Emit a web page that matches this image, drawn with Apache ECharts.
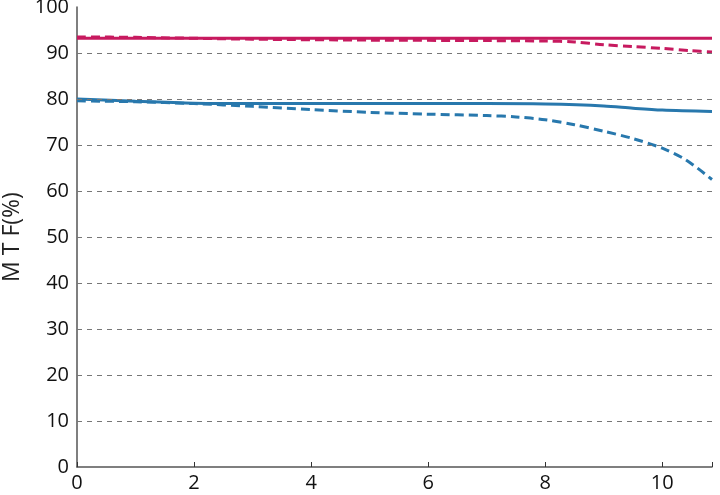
<!DOCTYPE html><html><head><meta charset="utf-8"><script src="https://cdn.jsdelivr.net/npm/echarts@6/dist/echarts.min.js"></script></head><body style="margin:0"><div id="c" style="width:720px;height:495px"></div><script>
const pinkSolid=[[0,93.2],[2,93.2],[4,93.2],[6,93.2],[8,93.2],[10,93.2],[10.85,93.2]];
const pinkDash=[[0,93.5],[1,93.4],[3,93],[5,92.8],[7,92.7],[8,92.6],[8.5,92.4],[9,91.8],[9.5,91.4],[10,91],[10.5,90.5],[10.85,90.2]];
const blueSolid=[[0,80],[1,79.5],[2,79.1],[3,79],[5,79],[7,79],[8,78.9],[9,78.5],[9.5,78],[10,77.6],[10.85,77.3]];
const blueDash=[[0,79.6],[1,79.4],[2,79],[3,78.4],[4,77.7],[5,77.1],[6,76.7],[7,76.4],[7.5,76.1],[8,75.5],[8.5,74.4],[9,73],[9.5,71.4],[10,69.3],[10.4,66.8],[10.85,62.5]];
const yTicks=[10,20,30,40,50,60,70,80,90];
const pink='#c71a5f',blue='#2878ad';
const ch=echarts.init(document.getElementById('c'));
const ls=(d,c,t)=>({type:'line',data:d,showSymbol:false,smooth:0.3,lineStyle:{color:c,width:3,type:t},z:3});
ch.setOption({animation:false,
grid:{left:77,right:8,top:7,bottom:28,containLabel:false,outerBoundsMode:'none'},
xAxis:{type:'value',min:0,max:10.85,interval:2,axisLine:{lineStyle:{color:'#555',width:1.5}},axisTick:{inside:true,length:5,lineStyle:{color:'#333'}},splitLine:{show:false},
 axisLabel:{color:'#111',fontSize:20,fontFamily:'Open Sans',margin:6,formatter:v=>v%2===0?v:''}},
yAxis:{type:'value',min:0,max:100,interval:10,axisLine:{show:true,lineStyle:{color:'#555',width:1.5}},axisTick:{show:false},splitLine:{show:false},
 axisLabel:{color:'#111',fontSize:20,fontFamily:'Open Sans',margin:8},
 name:'M T F(%)',nameLocation:'middle',nameGap:52,nameTextStyle:{fontSize:23,color:'#222',fontFamily:'Open Sans'}},
series:[{type:'line',data:[],markLine:{silent:true,symbol:'none',label:{show:false},lineStyle:{color:'#777',type:[5,5],width:1},data:yTicks.map(v=>({yAxis:v}))}},
ls(pinkSolid,pink,'solid'),ls(pinkDash,pink,[9,5]),ls(blueSolid,blue,'solid'),ls(blueDash,blue,[9,5])]});
</script></body></html>
